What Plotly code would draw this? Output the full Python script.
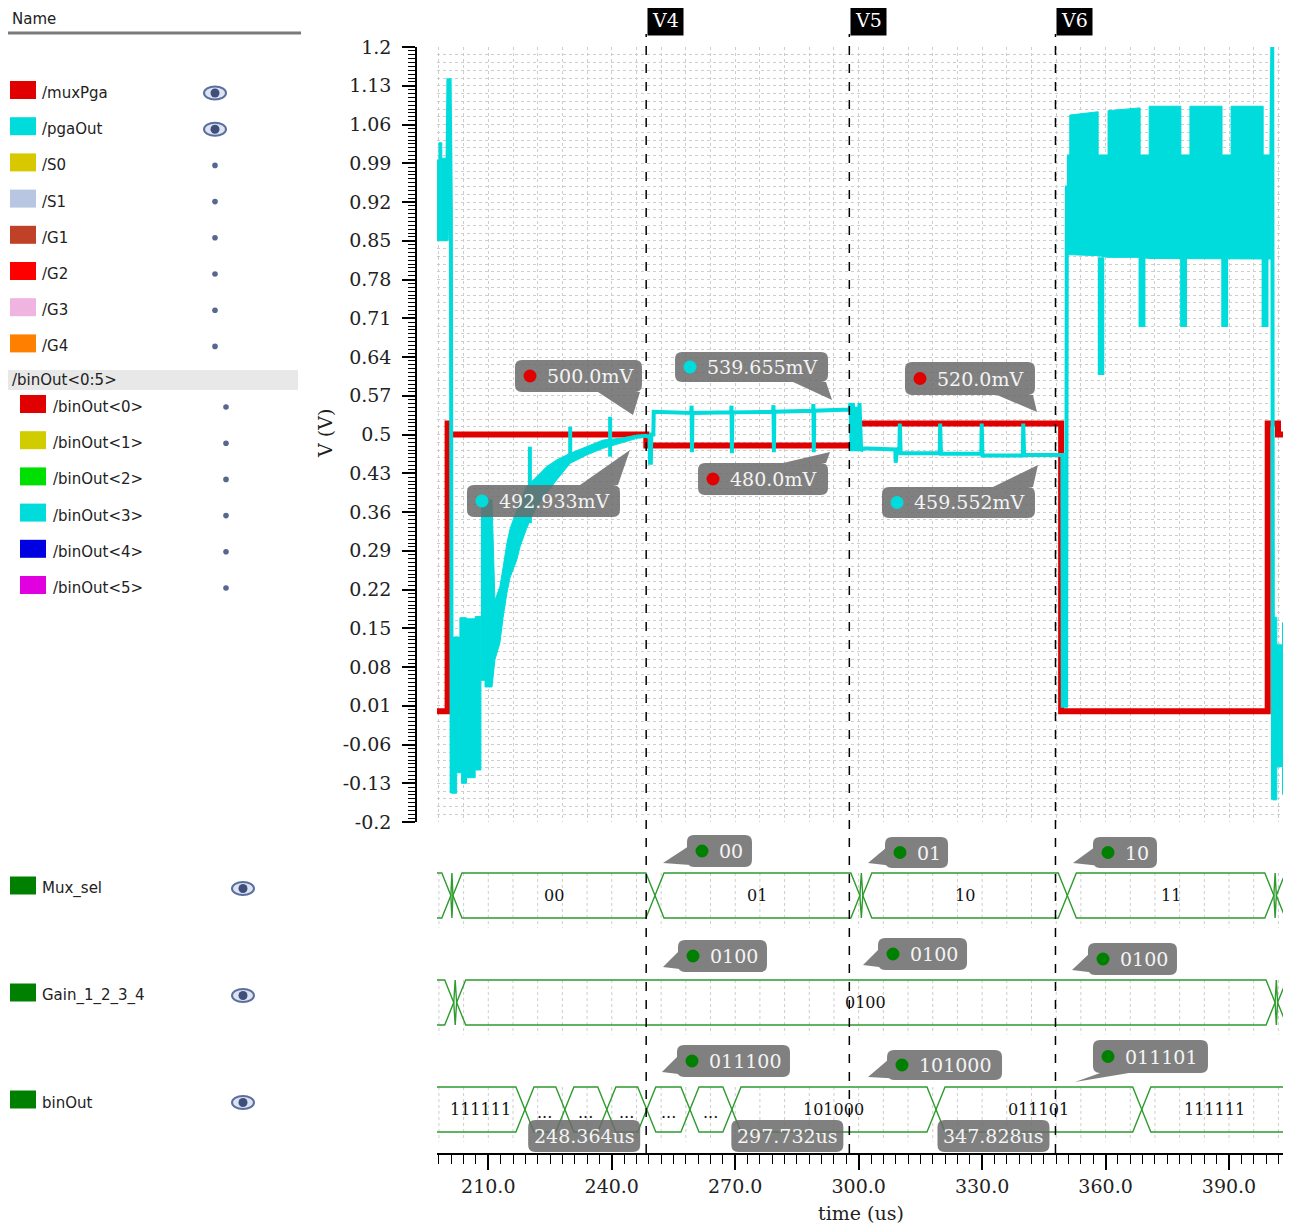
import plotly.graph_objects as go

# figure is placed by the page 8px from the top-left corner
OFF = 8
W, H = 1291 - OFF, 1228 - OFF

# ---------------- data ----------------
time_tick_vals = [210, 240, 270, 300, 330, 360, 390]
time_tick_text = ["210.0", "240.0", "270.0", "300.0", "330.0", "360.0", "390.0"]
volt_tick_vals = [1.2, 1.13, 1.06, 0.99, 0.92, 0.85, 0.78, 0.71, 0.64, 0.57, 0.5,
                  0.43, 0.36, 0.29, 0.22, 0.15, 0.08, 0.01, -0.06, -0.13, -0.2]
volt_tick_text = ["1.2", "1.13", "1.06", "0.99", "0.92", "0.85", "0.78", "0.71", "0.64", "0.57", "0.5",
                  "0.43", "0.36", "0.29", "0.22", "0.15", "0.08", "0.01", "-0.06", "-0.13", "-0.2"]

# /muxPga (red)
muxpga_t = [197.0, 200.1, 200.1, 200.6, 200.6, 248.4, 248.4, 299.0, 299.0, 349.2, 349.2, 399.4, 399.4, 401.9, 401.9, 405.0]
muxpga_v = [0.0, 0.0, 0.52, 0.52, 0.50, 0.50, 0.48, 0.48, 0.52, 0.52, 0.0, 0.0, 0.52, 0.52, 0.50, 0.50]

# /pgaOut (cyan) - dense oscillation envelopes
pga_band1_t = [197.3, 198.0, 198.0, 198.7, 198.7, 200.0]
pga_band1_hi = [0.996, 0.996, 1.027, 1.027, 0.999, 0.999]
pga_band1_lo = [0.850, 0.850, 0.850, 0.850, 0.850, 0.850]

pga_band2_t = [201.1, 202.3, 202.3, 203.1, 203.1, 203.5, 203.5, 204.7, 204.7, 206.8, 206.8, 208.2]
pga_band2_hi = [0.134, 0.134, 0.134, 0.134, 0.169, 0.169, 0.169, 0.169, 0.167, 0.167, 0.171, 0.171]
pga_band2_lo = [-0.148, -0.148, -0.111, -0.111, -0.111, -0.111, -0.130, -0.130, -0.120, -0.120, -0.106, -0.106]

pga_band3_t = [208.2, 209.2, 209.2, 210.9, 211.6, 212.8, 213.6, 214.5, 215.3, 216.9, 217.7, 219.3, 220.2,
               221.8, 224.2, 226.6, 229.9, 233.9, 237.9, 242.0, 246.1, 248.4]
pga_band3_hi = [0.382, 0.382, 0.382, 0.382, 0.200, 0.225, 0.260, 0.303, 0.330, 0.364, 0.380, 0.406, 0.412,
                0.424, 0.442, 0.454, 0.466, 0.478, 0.490, 0.493, 0.499, 0.500]
pga_band3_lo = [0.056, 0.056, 0.044, 0.044, 0.093, 0.123, 0.170, 0.213, 0.242, 0.273, 0.297, 0.330, 0.346,
                0.370, 0.394, 0.418, 0.448, 0.463, 0.475, 0.484, 0.493, 0.495]

pga_band4_t = [350.6, 351.3, 351.3, 358.2, 358.2, 360.6, 360.6, 368.4, 368.4, 370.6, 370.6, 378.3,
               378.3, 380.5, 380.5, 388.3, 388.3, 390.5, 390.5, 398.3, 398.3, 400.2]
pga_band4_hi = [1.005, 1.005, 1.077, 1.083, 1.005, 1.005, 1.085, 1.090, 1.005, 1.005, 1.093, 1.093,
                1.005, 1.005, 1.093, 1.093, 1.005, 1.005, 1.093, 1.093, 1.005, 1.005]
pga_band4_lo = [0.825, 0.824, 0.824, 0.823, 0.823, 0.820, 0.820, 0.820, 0.820, 0.818, 0.818, 0.818,
                0.818, 0.818, 0.818, 0.818, 0.818, 0.817, 0.817, 0.817, 0.817, 0.817]

pga_band5_t = [400.6, 401.6, 401.6, 403.0, 403.0, 404.3]
pga_band5_hi = [0.170, 0.170, 0.120, 0.120, 0.160, 0.160]
pga_band5_lo = [-0.160, -0.160, -0.100, -0.100, -0.150, -0.150]

# /pgaOut (cyan) - single trace parts, None = gap
pgaout_line_t = [199.9, 200.3, 200.6, 200.9, 201.1, None,
                 220.1, 220.1, None, 229.9, 229.9, None, 239.6, 239.6, None,
                 248.3, 249.2, 249.3, 249.5, 249.6, 250.1, 250.2,
                 259.3, 259.4, 259.5, 259.6,
                 269.0, 269.1, 269.2, 269.3,
                 279.2, 279.3, 279.4, 279.5,
                 288.9, 289.0, 289.1, 289.2,
                 297.8, 298.0, 298.3, 298.6, 299.0, 299.4, 299.8, 300.2, 300.6, 300.9,
                 308.9, 309.0, 309.3, 309.9, 310.0, 310.2,
                 319.7, 319.8, 320.0,
                 329.8, 329.9, 330.1,
                 339.9, 340.0, 340.2,
                 349.5, 349.6, 350.4, 350.6, None,
                 358.6, 358.6, 359.2, 359.2, None,
                 368.5, 368.5, 369.2, 369.2, None,
                 378.6, 378.6, 379.3, 379.3, None,
                 388.6, 388.6, 389.3, 389.3, None,
                 398.4, 398.4, 399.1, 399.1, None,
                 400.1, 400.3, 400.5, 400.7]
pgaout_line_v = [0.850, 1.140, 1.140, 0.900, -0.148, None,
                 0.478, 0.340, None, 0.514, 0.454, None, 0.532, 0.460, None,
                 0.497, 0.497, 0.449, 0.449, 0.500, 0.500, 0.541,
                 0.539, 0.552, 0.468, 0.539,
                 0.540, 0.552, 0.466, 0.540,
                 0.541, 0.553, 0.468, 0.541,
                 0.543, 0.555, 0.468, 0.543,
                 0.545, 0.557, 0.470, 0.557, 0.470, 0.550, 0.470, 0.557, 0.470, 0.475,
                 0.473, 0.449, 0.473, 0.475, 0.520, 0.466,
                 0.466, 0.520, 0.465,
                 0.465, 0.520, 0.462,
                 0.462, 0.520, 0.463,
                 0.463, 0.010, 0.010, 0.950, None,
                 0.820, 0.611, 0.611, 0.820, None,
                 0.820, 0.698, 0.698, 0.820, None,
                 0.818, 0.698, 0.698, 0.818, None,
                 0.818, 0.698, 0.698, 0.818, None,
                 0.817, 0.698, 0.698, 0.817, None,
                 0.817, 1.200, 1.200, -0.160]

# digital buses: transition times and segment values
mux_sel_edges = [200.9, 201.4, 250.5, 300.3, 301.0, 350.7, 400.9, 401.5]
mux_sel_values = ["", "", "00", "01", "", "10", "11", "", ""]
gain_edges = [201.6, 202.3, 401.2, 401.8]
gain_values = ["", "", "0100", "", ""]
binout_edges = [218.9, 228.6, 238.8, 248.5, 259.0, 269.2, 318.8, 368.8]
binout_values = ["111111", "", "", "011100", "", "", "101000", "011101", "111111"]

# cursors
cursor_names = ["V4", "V5", "V6"]
cursor_times = [248.364, 297.732, 347.828]
cursor_readouts = ["248.364us", "297.732us", "347.828us"]

# analog markers at the cursors
marker_cursor = [0, 0, 1, 1, 2, 2]
marker_signal = ["/muxPga", "/pgaOut", "/pgaOut", "/muxPga", "/muxPga", "/pgaOut"]
marker_value = [0.500, 0.492933, 0.539655, 0.480, 0.520, 0.459552]
marker_text = ["500.0mV", "492.933mV", "539.655mV", "480.0mV", "520.0mV", "459.552mV"]

# bus markers at the cursors (row 0 = Mux_sel, 1 = Gain, 2 = binOut)
bus_marker_cursor = [0, 0, 0, 1, 1, 2, 2, 1, 2]
bus_marker_row = [0, 1, 2, 0, 1, 0, 1, 2, 2]
bus_marker_text = ["00", "0100", "011100", "01", "0100", "10", "0100", "101000", "011101"]

# left name panel
signal_names = ["/muxPga", "/pgaOut", "/S0", "/S1", "/G1", "/G2", "/G3", "/G4"]
signal_colors = ["#e00000", "#00dcdc", "#d7c800", "#b9c6e1", "#be4128", "#ff0000", "#f0b4e1", "#ff8000"]
signal_shown = [True, True, False, False, False, False, False, False]
group_name = "/binOut<0:5>"
bit_names = ["/binOut<0>", "/binOut<1>", "/binOut<2>", "/binOut<3>", "/binOut<4>", "/binOut<5>"]
bit_colors = ["#e00000", "#d0cc00", "#00e000", "#00dcdc", "#0000e0", "#e000e0"]
bus_names = ["Mux_sel", "Gain_1_2_3_4", "binOut"]

# ---------------- styling / geometry ----------------
RED = "#e00000"
CYAN = "#00dcdc"
GREEN = "#2e9b2e"
BUS_SWATCH = "#008000"
SERIF = "DejaVu Serif"
SANS = "DejaVu Sans"
GRID = "#cdcdcd"
BUBBLE = "#6a6a6a"

PLOT_L, PLOT_R = 437, 1287
AN_TOP, AN_BOT = 47, 822
BUS_TOP, BUS_BOT = 835, 1153
T_MIN, T_MAX = 197.53, 404.09
V_MIN, V_MAX = -0.2, 1.2
ROW_PX = 107.0
ROW_CENTER_PX = [895.5, 1002.5, 1109.5]
ROW_VAL = [2.0, 1.0, 0.0]
B_MAX = 2 + (ROW_CENTER_PX[0] - BUS_TOP) / ROW_PX
B_MIN = 0 - (BUS_BOT - ROW_CENTER_PX[2]) / ROW_PX
HALF = 22.5 / ROW_PX
XH = 2.2  # half width of a bus transition (us)


def px(x):
    return (x - OFF) / W


def py(y):
    return 1 - (y - OFF) / H


def t2px(t):
    return PLOT_L + (t - T_MIN) / (T_MAX - T_MIN) * (PLOT_R - PLOT_L)


def v2px(v):
    return AN_BOT - (v - V_MIN) / (V_MAX - V_MIN) * (AN_BOT - AN_TOP)


def b2px(b):
    return BUS_BOT - (b - B_MIN) / (B_MAX - B_MIN) * (BUS_BOT - BUS_TOP)


fig = go.Figure()

# dummy trace for horizontal-grid overlay axis
fig.add_trace(go.Scatter(x=[None], y=[None], xaxis="x", yaxis="y3", showlegend=False, hoverinfo="skip"))

# bus grid (dotted verticals inside each bus row)
gx, gy = [], []
for r in ROW_VAL:
    for t in range(198, 405, 6):
        gx += [t, t, None]
        gy += [r + HALF, r - HALF - 0.09, None]
fig.add_trace(go.Scatter(x=gx, y=gy, xaxis="x2", yaxis="y2", mode="lines",
                         line=dict(color=GRID, width=1, dash="dot"), hoverinfo="skip", showlegend=False))

# red /muxPga
fig.add_trace(go.Scatter(x=muxpga_t, y=muxpga_v, mode="lines", line=dict(color=RED, width=6),
                         name="/muxPga", showlegend=False))

# cyan /pgaOut envelopes
for bt, bh, bl in [(pga_band1_t, pga_band1_hi, pga_band1_lo), (pga_band2_t, pga_band2_hi, pga_band2_lo),
                   (pga_band3_t, pga_band3_hi, pga_band3_lo), (pga_band4_t, pga_band4_hi, pga_band4_lo),
                   (pga_band5_t, pga_band5_hi, pga_band5_lo)]:
    fig.add_trace(go.Scatter(x=bt + bt[::-1], y=bh + bl[::-1], fill="toself", fillcolor=CYAN, mode="lines",
                             line=dict(color=CYAN, width=1), showlegend=False, hoverinfo="skip"))
fig.add_trace(go.Scatter(x=pgaout_line_t, y=pgaout_line_v, mode="lines", line=dict(color=CYAN, width=4),
                         name="/pgaOut", showlegend=False, connectgaps=False))


# digital buses
def bus_trace(edges, values, row_val):
    bounds = [190.0] + edges + [412.0]
    xs, ys = [], []
    labels = []
    for i in range(len(bounds) - 1):
        a, b = bounds[i], bounds[i + 1]
        h = min(XH, (b - a) / 2)
        xs += [a, a + h, b - h, b, b - h, a + h, a, None]
        ys += [row_val, row_val + HALF, row_val + HALF, row_val, row_val - HALF, row_val - HALF, row_val, None]
        va, vb = max(a, T_MIN), min(b, T_MAX)
        width_px = (vb - va) / (T_MAX - T_MIN) * (PLOT_R - PLOT_L)
        if width_px < 25:
            continue
        val = values[i]
        if val == "" or len(val) * 10.5 > width_px - 12:
            val = "..."
        labels.append(((va + vb) / 2, val))
    fig.add_trace(go.Scatter(x=xs, y=ys, xaxis="x2", yaxis="y2", mode="lines",
                             line=dict(color=GREEN, width=1.4), showlegend=False, hoverinfo="skip"))
    for xc, val in labels:
        fig.add_annotation(x=xc, y=row_val - (0.03 if val == "..." else 0), xref="x2", yref="y2",
                           xanchor="center", yanchor="middle",
                           text=val, showarrow=False, font=dict(family=SERIF, size=16, color="#111"))


bus_trace(mux_sel_edges, mux_sel_values, ROW_VAL[0])
bus_trace(gain_edges, gain_values, ROW_VAL[1])
bus_trace(binout_edges, binout_values, ROW_VAL[2])


# ---------------- bubbles ----------------
def rrect_path(L, T, R, B, r=7):
    def P(x, y):
        return f"{x:.1f},{-y:.1f}"
    return (f"M{P(L + r, T)} L{P(R - r, T)} Q{P(R, T)} {P(R, T + r)} L{P(R, B - r)} Q{P(R, B)} {P(R - r, B)} "
            f"L{P(L + r, B)} Q{P(L, B)} {P(L, B - r)} L{P(L, T + r)} Q{P(L, T)} {P(L + r, T)} Z")


def bubble(xref, yref, ax, ay, ax_px, ay_px, box, tip, b1, b2, text, dot):
    L, T, R, B = box[0] - ax_px, box[1] - ay_px, box[2] - ax_px, box[3] - ay_px
    path = rrect_path(L, T, R, B)
    if tip is not None:
        tx, ty = tip[0] - ax_px, tip[1] - ay_px
        x1, y1 = b1[0] - ax_px, b1[1] - ay_px
        x2, y2 = b2[0] - ax_px, b2[1] - ay_px
        # keep the same (clockwise on screen) winding as the box so overlaps stay filled
        cross = (tx - x1) * (y2 - ty) - (ty - y1) * (x2 - tx)
        if cross < 0:
            x1, y1, x2, y2 = x2, y2, x1, y1
        path += f" M{x1:.1f},{-y1:.1f} L{tx:.1f},{-ty:.1f} L{x2:.1f},{-y2:.1f} Z"
    fig.add_shape(type="path", path=path, xref=xref, yref=yref, xsizemode="pixel", ysizemode="pixel",
                  xanchor=ax, yanchor=ay, fillcolor=BUBBLE, fillrule="nonzero", opacity=0.85,
                  line=dict(width=0), layer="above")
    cy = (T + B) / 2
    if dot is not None:
        cx = L + 15
        fig.add_shape(type="circle", xref=xref, yref=yref, xsizemode="pixel", ysizemode="pixel",
                      xanchor=ax, yanchor=ay, x0=cx - 6.5, x1=cx + 6.5, y0=-cy - 6.5, y1=-cy + 6.5,
                      fillcolor=dot, line=dict(width=0), layer="above")
        fig.add_annotation(x=ax, y=ay, xref=xref, yref=yref, xanchor="left", yanchor="middle",
                           xshift=L + 30, yshift=-cy, text=text, showarrow=False,
                           font=dict(family=SERIF, size=19, color="#f4f4f4"))
    else:
        fig.add_annotation(x=ax, y=ay, xref=xref, yref=yref, xanchor="center", yanchor="middle",
                           xshift=(L + R) / 2, yshift=-cy, text=text, showarrow=False,
                           font=dict(family=SERIF, size=19, color="#f4f4f4"))


# reference-pixel geometry of each callout: box, tail tip, tail base points
analog_geom = [
    ((515, 360, 642, 392), (633, 415), (598, 392), (640, 392)),
    ((467, 485, 620, 517), (630, 450), (580, 485), (618, 485)),
    ((675, 352, 828, 382), (832, 400), (793, 382), (826, 382)),
    ((698, 463, 828, 495), (830, 452), (783, 463), (826, 463)),
    ((905, 362, 1035, 395), (1037, 412), (997, 395), (1033, 395)),
    ((882, 487, 1035, 518), (1038, 465), (993, 487), (1033, 487)),
]
for i in range(len(marker_value)):
    t = cursor_times[marker_cursor[i]]
    v = marker_value[i]
    col = RED if marker_signal[i] == "/muxPga" else CYAN
    box, tip, b1, b2 = analog_geom[i]
    bubble("x", "y", t, v, t2px(t), v2px(v), box, tip, b1, b2, marker_text[i], col)

bus_geom = [
    ((687, 835, 752, 867), (663, 863), (689, 846), (704, 866)),
    ((678, 940, 767, 972), (663, 967), (680, 950), (696, 971)),
    ((677, 1045, 790, 1077), (662, 1072), (679, 1055), (695, 1076)),
    ((885, 837, 948, 868), (868, 863), (887, 847), (902, 867)),
    ((878, 938, 967, 970), (863, 965), (880, 948), (895, 969)),
    ((1093, 837, 1157, 868), (1073, 863), (1095, 847), (1110, 867)),
    ((1088, 943, 1177, 975), (1072, 970), (1090, 953), (1105, 974)),
    ((887, 1050, 1002, 1080), (868, 1077), (889, 1059), (904, 1079)),
    ((1093, 1040, 1208, 1073), (1075, 1082), (1103, 1072), (1135, 1072)),
]
for i in range(len(bus_marker_text)):
    t = cursor_times[bus_marker_cursor[i]]
    rv = ROW_VAL[bus_marker_row[i]]
    box, tip, b1, b2 = bus_geom[i]
    bubble("x2", "y2", t, rv, t2px(t), b2px(rv), box, tip, b1, b2, bus_marker_text[i], BUS_SWATCH)

# cursors
for name, t, ro in zip(cursor_names, cursor_times, cursor_readouts):
    fig.add_shape(type="line", xref="x", yref="paper", x0=t, x1=t, y0=py(1153), y1=py(34),
                  line=dict(color="black", width=1.5, dash="dash"), layer="above")
    fig.add_annotation(x=t, y=py(20), xref="x", yref="paper", xanchor="left", yanchor="middle", xshift=1,
                       text=name, showarrow=False, bgcolor="black", borderpad=4,
                       font=dict(family=SERIF, size=19, color="white"))
    cx = t2px(t)
    bubble("x2", "paper", t, py(1136), cx, 1136, (cx - 118, 1120, cx - 6, 1152), None, None, None, ro, None)

# axis titles
fig.add_annotation(x=px(325), y=py(434), xref="paper", yref="paper", text="V (V)", textangle=-90,
                   xanchor="center", yanchor="middle",
                   showarrow=False, font=dict(family=SERIF, size=19, color="#222"))
fig.add_annotation(x=px(861), y=py(1213), xref="paper", yref="paper", text="time (us)",
                   xanchor="center", yanchor="middle",
                   showarrow=False, font=dict(family=SERIF, size=19, color="#222"))

# ---------------- left name panel ----------------
shapes = []
annos = []


def label(x, y, text, size=15):
    annos.append(dict(x=px(x), y=py(y), xref="paper", yref="paper", xanchor="left", yanchor="middle",
                      text=text, showarrow=False, font=dict(family=SANS, size=size, color="#222")))


def swatch(x0, yc, color):
    shapes.append(dict(type="rect", xref="paper", yref="paper", x0=px(x0), x1=px(x0 + 26),
                       y0=py(yc + 9), y1=py(yc - 9), fillcolor=color, line=dict(width=0)))


def eye(x, y):
    shapes.append(dict(type="circle", xref="paper", yref="paper", x0=px(x - 11), x1=px(x + 11),
                       y0=py(y + 6.5), y1=py(y - 6.5), fillcolor="#dde3f0", line=dict(color="#5a6f9e", width=2)))
    shapes.append(dict(type="circle", xref="paper", yref="paper", x0=px(x - 4.5), x1=px(x + 4.5),
                       y0=py(y + 4.5), y1=py(y - 4.5), fillcolor="#3f4f7c", line=dict(width=0)))


def dotmark(x, y):
    shapes.append(dict(type="circle", xref="paper", yref="paper", x0=px(x - 2.8), x1=px(x + 2.8),
                       y0=py(y + 2.8), y1=py(y - 2.8), fillcolor="#56688f", line=dict(width=0)))


label(10, 19, "Name", 15)
shapes.append(dict(type="line", xref="paper", yref="paper", x0=px(8), x1=px(301), y0=py(33), y1=py(33),
                   line=dict(color="#7a7a7a", width=3)))
for i, (nm, col, shown) in enumerate(zip(signal_names, signal_colors, signal_shown)):
    yc = 90 + 36.2 * i
    swatch(10, yc, col)
    label(40, yc + 3, nm)
    if shown:
        eye(215, yc + 3)
    else:
        dotmark(215, yc + 3)
shapes.append(dict(type="rect", xref="paper", yref="paper", x0=px(8), x1=px(298), y0=py(390), y1=py(370),
                   fillcolor="#e8e8e8", line=dict(width=0)))
label(10, 380, group_name)
for j, (nm, col) in enumerate(zip(bit_names, bit_colors)):
    yc = 404 + 36.2 * j
    swatch(20, yc, col)
    label(51, yc + 3, nm)
    dotmark(226, yc + 3)
for k, nm in enumerate(bus_names):
    yc = ROW_CENTER_PX[k] - 10
    swatch(10, yc, BUS_SWATCH)
    label(40, yc + 3, nm)
    eye(243, yc + 3)

for s in shapes:
    fig.add_shape(**s)
for a in annos:
    fig.add_annotation(**a)

# ---------------- layout ----------------
tickfont = dict(family=SERIF, size=19, color="#222")
fig.update_layout(
    width=W, height=H, autosize=False, margin=dict(l=0, r=0, t=0, b=0, pad=0),
    paper_bgcolor="white", plot_bgcolor="white", showlegend=False,
    xaxis=dict(domain=[px(PLOT_L), px(PLOT_R)], range=[T_MIN, T_MAX], anchor="y", automargin=False,
               showticklabels=False, ticks="", showline=False, zeroline=False,
               showgrid=True, tick0=0, dtick=6, gridcolor=GRID, griddash="dot", gridwidth=1),
    yaxis=dict(domain=[py(AN_BOT), py(AN_TOP)], range=[V_MIN, V_MAX], anchor="free", position=px(416),
               automargin=False,
               tickmode="array", tickvals=volt_tick_vals, ticktext=volt_tick_text, tickfont=tickfont,
               ticks="outside", ticklen=13, tickwidth=1.5, tickcolor="black", ticklabelstandoff=7,
               showline=True, linecolor="black", linewidth=1.5, showgrid=False, zeroline=False,
               minor=dict(tickmode="linear", tick0=-0.2, dtick=0.007, ticks="outside", ticklen=7,
                          tickwidth=1, tickcolor="black", showgrid=False)),
    yaxis3=dict(overlaying="y", range=[V_MIN, V_MAX], anchor="x", showticklabels=False, ticks="",
                automargin=False,
                showline=False, zeroline=False, showgrid=True, tick0=-0.2, dtick=0.014,
                gridcolor=GRID, griddash="dot", gridwidth=1),
    xaxis2=dict(domain=[px(PLOT_L), px(PLOT_R)], matches="x", anchor="y2", automargin=False,
                tickmode="array", tickvals=time_tick_vals, ticktext=time_tick_text, tickfont=tickfont,
                ticks="outside", ticklen=15, tickwidth=1.5, tickcolor="black", ticklabelstandoff=0,
                showline=True, linecolor="black", linewidth=1.5, showgrid=False, zeroline=False,
                minor=dict(tickmode="linear", tick0=0, dtick=3, ticks="outside", ticklen=9,
                           tickwidth=1, tickcolor="black", showgrid=False)),
    yaxis2=dict(domain=[py(BUS_BOT), py(BUS_TOP)], range=[B_MIN, B_MAX], anchor="x2", visible=False,
                automargin=False),
)

fig.write_html("out.html")
